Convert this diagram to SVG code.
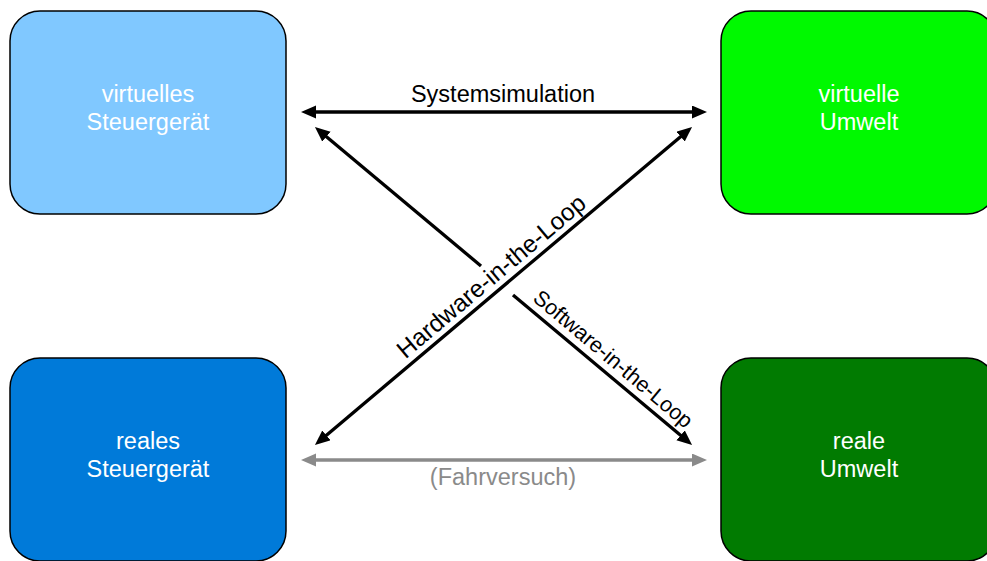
<svg xmlns="http://www.w3.org/2000/svg" width="987" height="561" viewBox="0 0 987 561">
<style>
.box{stroke:#000;stroke-width:1.5}
.nt{font-family:"Liberation Sans",Helvetica,Arial,sans-serif;font-size:23.5px;fill:#fff;text-anchor:middle}
.lbl{font-family:"Liberation Sans",Helvetica,Arial,sans-serif;font-size:23.5px;fill:#000;text-anchor:middle}
.blk{stroke:#000;stroke-width:3.3;fill:none}
.gry{stroke:#8a8a8a;stroke-width:3.3;fill:none}
</style>
<defs>
<marker id="ah" markerUnits="userSpaceOnUse" markerWidth="17" markerHeight="14" refX="5" refY="6.5" orient="auto-start-reverse">
<path d="M0,0 L15,6.5 L0,13 z" fill="#000"/>
</marker>
<marker id="ahg" markerUnits="userSpaceOnUse" markerWidth="17" markerHeight="14" refX="5" refY="6.5" orient="auto-start-reverse">
<path d="M0,0 L15,6.5 L0,13 z" fill="#8a8a8a"/>
</marker>
</defs>
<rect width="987" height="561" fill="#fff"/>
<g id="virtuelles-steuergeraet">
<rect class="box" x="10" y="11" width="276" height="203" rx="30" fill="#80C8FF"/>
<text class="nt" x="148" y="102">virtuelles</text>
<text class="nt" x="148" y="129.5">Steuergerät</text>
</g>
<g id="virtuelle-umwelt">
<rect class="box" x="721" y="11" width="276" height="203" rx="30" fill="#00F900"/>
<text class="nt" x="859" y="102">virtuelle</text>
<text class="nt" x="859" y="129.5">Umwelt</text>
</g>
<g id="reales-steuergeraet">
<rect class="box" x="10" y="358" width="276" height="203" rx="30" fill="#007AD9"/>
<text class="nt" x="148" y="448.5">reales</text>
<text class="nt" x="148" y="476.5">Steuergerät</text>
</g>
<g id="reale-umwelt">
<rect class="box" x="721" y="358" width="276" height="203" rx="30" fill="#017B01"/>
<text class="nt" x="859" y="448.5">reale</text>
<text class="nt" x="859" y="476.5">Umwelt</text>
</g>
<g id="connectors">
<line class="blk" x1="311" y1="112" x2="697" y2="112" marker-start="url(#ah)" marker-end="url(#ah)"/>
<text class="lbl" x="503" y="102">Systemsimulation</text>
<line class="gry" x1="311" y1="460" x2="697" y2="460" marker-start="url(#ahg)" marker-end="url(#ahg)"/>
<text class="lbl" x="503" y="485" style="fill:#8a8a8a">(Fahrversuch)</text>
<line class="blk" x1="322.6" y1="438.6" x2="684.4" y2="133.4" marker-start="url(#ah)" marker-end="url(#ah)"/>
<text class="lbl" transform="translate(496.6,282.6) rotate(-40.14)" style="font-size:24.5px">Hardware-in-the-Loop</text>
<line class="blk" x1="481" y1="266" x2="322.6" y2="133.4" marker-end="url(#ah)"/>
<line class="blk" x1="513" y1="295" x2="684.4" y2="438.6" marker-end="url(#ah)"/>
<text class="lbl" transform="translate(608.5,364.6) rotate(40.14)" style="font-size:21.5px">Software-in-the-Loop</text>
</g>
</svg>
